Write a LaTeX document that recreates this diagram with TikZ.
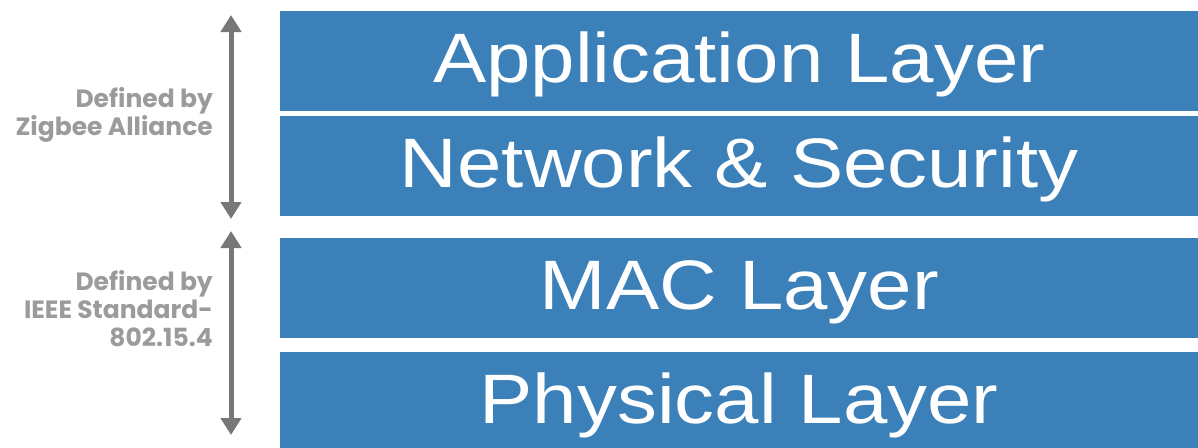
\documentclass[tikz,border=0pt]{standalone}
\usepackage{fontspec}
\usepackage{tikz}
\usetikzlibrary{arrows.meta}

\newfontfamily\layerfont[FakeStretch=1.14]{Liberation Sans}
\newfontfamily\notefont{Poppins}

\definecolor{layerblue}{HTML}{3B80B9}
\definecolor{notegray}{HTML}{9B9B9B}
\definecolor{arrowgray}{HTML}{777777}

\tikzset{
	layer/.style={draw=none, fill=layerblue, anchor=north west, inner sep=0pt,
		minimum width=918pt, minimum height=100pt, text=white,
		text height=43pt, text depth=0pt, font=\layerfont\fontsize{70}{70}\selectfont},
	note/.style={anchor=base east, align=right, inner sep=0pt, text=notegray,
		font=\notefont\bfseries\fontsize{25}{28}\selectfont},
	span/.style={{Triangle[width=20pt,length=17pt]}-{Triangle[width=20pt,length=17pt]},
		line width=5pt, draw=arrowgray}
}

\begin{document}
\begin{tikzpicture}[x=1pt, y=-1pt]
		\useasboundingbox (0, 0) rectangle (1198, 447);
		% protocol stack
		\node[layer] (appl) at (280, 11) {Application Layer};
		\node[layer] (nwk) at (280, 116) {Network \& Security};
		\node[layer] (mac) at (280, 238) {MAC Layer};
		\node[layer, minimum height=99pt] (phy) at (280, 352) {Physical Layer};
		% who defines which layers
		\coordinate (zbtop) at (231, 15);
		\coordinate (zbbot) at (231, 219);
		\coordinate (ieeetop) at (231, 231);
		\coordinate (ieeebot) at (231, 435);
		\draw[span] (zbtop) -- (zbbot);
		\draw[span] (ieeetop) -- (ieeebot);
		% base anchor sits on the last line
		\node[note] (zbnote) at (213, 135) {Defined by\\Zigbee Alliance};
		\node[note] (ieeenote) at (213, 346) {Defined by\\IEEE Standard-\\802.15.4};
	\end{tikzpicture}
\end{document}
